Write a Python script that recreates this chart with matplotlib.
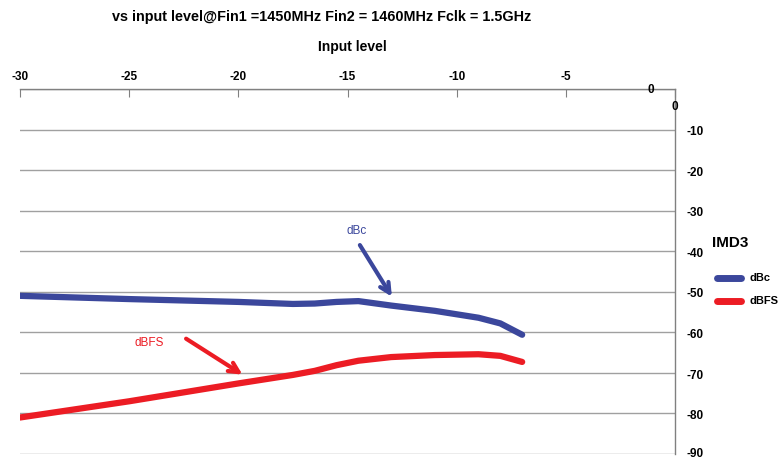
import matplotlib
matplotlib.use("Agg")
import matplotlib.pyplot as plt
import matplotlib.transforms as mtransforms

plt.rcParams['font.family'] = ['Liberation Sans', 'DejaVu Sans']

input_level = [-30, -25, -20, -17.5, -16.5, -15.5, -14.5, -13, -11, -9, -8, -7]
dbc = [-51.0, -51.8, -52.5, -53.0, -52.9, -52.5, -52.3, -53.4, -54.7, -56.4, -57.8, -60.6]
dbfs = [-81.0, -77.0, -72.6, -70.5, -69.5, -68.1, -67.0, -66.1, -65.6, -65.4, -65.8, -67.3]
x_ticks = [-30, -25, -20, -15, -10, -5]
y_ticks = [-10, -20, -30, -40, -50, -60, -70, -80, -90]

BLUE = "#3b479c"
RED = "#ec1c24"
GRID = "#a0a0a0"

W, H = 778, 460
fig = plt.figure(figsize=(W / 100, H / 100), dpi=100)
ax = fig.add_axes([20 / W, 1 - 455 / H, (675 - 20) / W, (455 - 90) / H])
ax.set_xlim(-30, 0)
ax.set_ylim(-90, 0)

for yv in [0] + y_ticks:
    ax.axhline(yv, color=GRID, lw=1.0, zorder=1)

ax.plot(input_level, dbc, color=BLUE, lw=4.5, solid_capstyle='round',
        solid_joinstyle='round', zorder=3)
ax.plot(input_level, dbfs, color=RED, lw=4.5, solid_capstyle='round',
        solid_joinstyle='round', zorder=3)

for s in ['left', 'bottom']:
    ax.spines[s].set_visible(False)
for s in ['top', 'right']:
    ax.spines[s].set_color('#808080')
    ax.spines[s].set_linewidth(1.0)

ax.xaxis.tick_top()
ax.set_xticks(x_ticks + [0])
ax.set_xticklabels([str(v) for v in x_ticks] + [''], fontsize=8.5, fontweight='bold')
ax.tick_params(axis='x', direction='in', length=6, color='#808080', pad=5)
ax.set_yticks([])

# right-side value labels
trans = mtransforms.blended_transform_factory(fig.transFigure, ax.transData)
for v in y_ticks:
    yy = v + 0.3 if v == -90 else v - 0.4
    ax.text(695 / W, yy, str(v), transform=trans, fontsize=8.5, fontweight='bold',
            ha='center', va='center', clip_on=False)

# odd zero labels as in reference
ax.text(-1.1, 0, "0", fontsize=8.5, fontweight='bold', ha='center', va='center', zorder=5)
ax.text(0, -4.2, "0", fontsize=8.5, fontweight='bold', ha='center', va='center', zorder=5)

# annotations
ax.annotate("", xy=(-12.9, -51.8), xytext=(-14.5, -37.9),
            arrowprops=dict(arrowstyle='->,head_length=0.7,head_width=0.35', color=BLUE, lw=3))
ax.text(-14.6, -34.8, "dBc", color=BLUE, fontsize=8.5, ha='center', va='center')
ax.annotate("", xy=(-19.7, -70.8), xytext=(-22.5, -61.2),
            arrowprops=dict(arrowstyle='->,head_length=0.7,head_width=0.35', color=RED, lw=3))
ax.text(-24.1, -62.5, "dBFS", color=RED, fontsize=8.5, ha='center', va='center')

fig.text(322 / W, 1 - 17 / H, "vs input level@Fin1 =1450MHz Fin2 = 1460MHz Fclk = 1.5GHz",
         fontsize=10.4, fontweight='bold', ha='center', va='center')
fig.text(352 / W, 1 - 47 / H, "Input level", fontsize=10, fontweight='bold', ha='center', va='center')
fig.text(730 / W, 1 - 243 / H, "IMD3", fontsize=11, fontweight='bold', ha='center', va='center')

# legend
lax = fig.add_axes([0, 0, 1, 1], facecolor='none')
lax.set_xlim(0, W)
lax.set_ylim(H, 0)
lax.axis('off')
lax.plot([717, 741], [279, 279], color=BLUE, lw=5, solid_capstyle='round')
lax.plot([717, 741], [302, 302], color=RED, lw=5, solid_capstyle='round')
lax.text(750, 278, "dBc", fontsize=8, fontweight='bold', va='center', ha='left')
lax.text(750, 301, "dBFS", fontsize=8, fontweight='bold', va='center', ha='left')

fig.savefig("out.png", dpi=100)
